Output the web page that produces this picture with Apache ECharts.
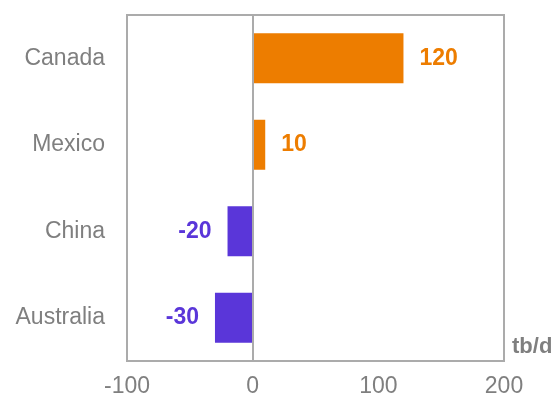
<!DOCTYPE html>
<html>
<head>
<meta charset="utf-8">
<script src="https://cdn.jsdelivr.net/npm/echarts@6/dist/echarts.min.js"></script>
<style>
  html, body { margin: 0; padding: 0; background: #fff; }
  #chartContainer { width: 556px; height: 398px; }
</style>
</head>
<body>
<div id="chartContainer"></div>
<script>
const countries = ['Canada', 'Mexico', 'China', 'Australia'];
const changes = [120, 10, -20, -30];
const xTicks = { min: -100, max: 200, interval: 100 };

const posColor = '#ED7D00';
const negColor = '#5A36D9';
const gray = '#7F7F7F';
const lineGray = '#ABABAB';
const fontFamily = 'Arial, "Liberation Sans", sans-serif';

let chart = null;

document.addEventListener('DOMContentLoaded', function() {
    chart = echarts.init(document.getElementById('chartContainer'));
    updateChart();
});

function updateChart() {
    const barData = changes.map(v => {
        const color = v >= 0 ? posColor : negColor;
        return {
            value: v,
            itemStyle: { color: color },
            label: { position: v >= 0 ? 'right' : 'left', color: color }
        };
    });

    const option = {
        animation: false,
        textStyle: { fontFamily: fontFamily },
        grid: {
            left: 127, right: 52, top: 15, bottom: 37,
            show: true, borderColor: lineGray, borderWidth: 2, backgroundColor: 'transparent'
        },
        xAxis: {
            type: 'value',
            min: xTicks.min, max: xTicks.max, interval: xTicks.interval,
            name: 'tb/d',
            nameLocation: 'end',
            nameGap: 8,
            nameTextStyle: { color: gray, fontSize: 22, fontWeight: 'bold', verticalAlign: 'bottom', padding: [0, 0, 3, 0] },
            axisLine: { show: false },
            axisTick: { show: false },
            splitLine: { show: false },
            axisLabel: { color: gray, fontSize: 23, margin: 14 }
        },
        yAxis: {
            type: 'category',
            data: countries,
            inverse: true,
            axisLine: { show: false },
            axisTick: { show: false },
            splitLine: { show: false },
            axisLabel: { color: gray, fontSize: 23, margin: 22 }
        },
        series: [{
            type: 'bar',
            data: barData,
            barWidth: 50,
            label: { show: true, fontSize: 23, fontWeight: 'bold', distance: 16 },
            markLine: {
                silent: true,
                symbol: 'none',
                label: { show: false },
                lineStyle: { color: lineGray, width: 2, type: 'solid' },
                data: [{ xAxis: 0 }]
            }
        }]
    };

    chart.setOption(option, true);
}
</script>
</body>
</html>
